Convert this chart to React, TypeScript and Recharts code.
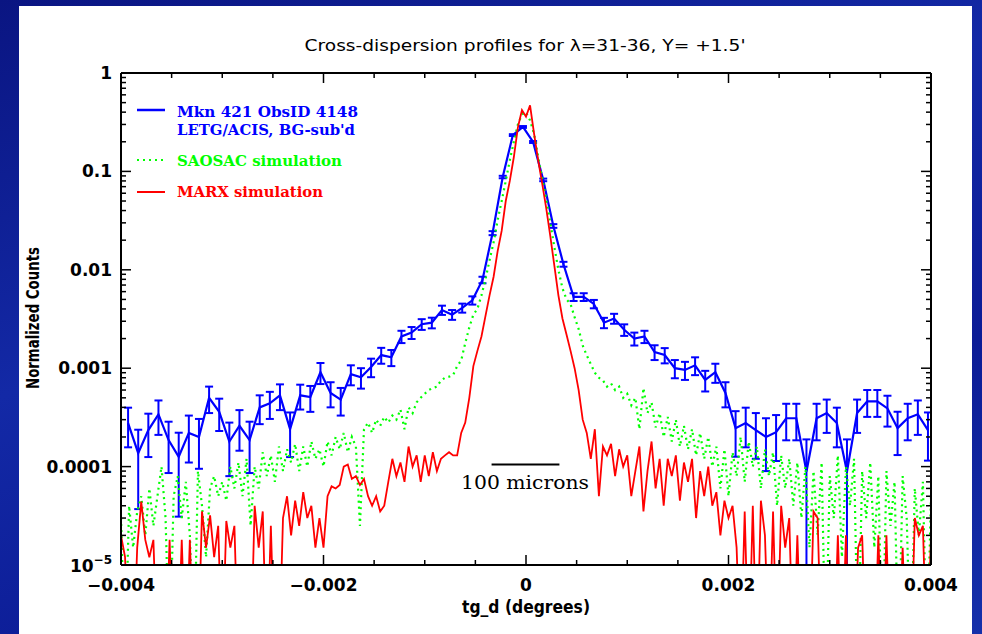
import React from 'react';
import { LineChart, Line, XAxis, YAxis, ErrorBar, ReferenceLine } from 'recharts';

// ---------- axis ranges & ticks ----------
const X_MIN = -0.004;
const X_MAX = 0.004;
const Y_MIN = 1e-5;
const Y_MAX = 1;
const xTicks = [-0.004, -0.0035, -0.003, -0.0025, -0.002, -0.0015, -0.001, -0.0005, 0, 0.0005, 0.001, 0.0015, 0.002, 0.0025, 0.003, 0.0035, 0.004];
const xMajorTicks = [-0.004, -0.002, 0, 0.002, 0.004];
const xMajorLabels = ['\u22120.004', '\u22120.002', '0', '0.002', '0.004'];
const yDecades = [1e-5, 1e-4, 1e-3, 1e-2, 1e-1, 1];
const yDecadeLabels = ['10^-5', '0.0001', '0.001', '0.01', '0.1', '1'];
const yMinorMultipliers = [1, 2, 3, 4, 5, 6, 7, 8, 9];

// ---------- Mkn 421 ObsID 4148 (binned, with errors) ----------
const blueX0 = -0.00393;
const blueStep = 0.0001;
const blueY = [
  2.77e-4, 1.37e-4, 2.35e-4, 3.4e-4, 1.86e-4, 1.26e-4, 2.2e-4, 2.0e-4, 5.0e-4, 3.6e-4,
  1.8e-4, 2.6e-4, 1.86e-4, 4.0e-4, 4.4e-4, 5.3e-4, 2.4e-4, 5.3e-4, 5.1e-4, 9.1e-4,
  5.6e-4, 4.8e-4, 8.7e-4, 8.1e-4, 1.03e-3, 1.36e-3, 1.29e-3, 2.1e-3, 2.3e-3, 2.8e-3,
  2.9e-3, 3.9e-3, 3.5e-3, 4.1e-3, 4.9e-3, 7.9e-3, 0.0236, 0.0877, 0.234, 0.283,
  0.199, 0.082, 0.0279, 0.0114, 5.3e-3, 5.3e-3, 4.5e-3, 2.9e-3, 3.2e-3, 2.46e-3,
  2.0e-3, 2.1e-3, 1.46e-3, 1.36e-3, 1.0e-3, 9.6e-4, 1.07e-3, 7.6e-4, 9.1e-4, 5.6e-4,
  2.46e-4, 2.77e-4, 2.35e-4, 2.0e-4, 2.24e-4, 3.1e-4, 3.1e-4, 8.9e-5, 3.1e-4, 3.5e-4,
  2.77e-4, 8.9e-5, 3.5e-4, 4.6e-4, 4.6e-4, 3.9e-4, 2.46e-4, 3.1e-4, 3.4e-4, 2.35e-4,
];
const blueSigma = [
  1.2e-4, 1.0e-4, 1.1e-4, 1.3e-4, 1.0e-4, 0.95e-4, 1.1e-4, 1.05e-4, 1.5e-4, 1.3e-4,
  1.0e-4, 1.15e-4, 1.0e-4, 1.3e-4, 1.35e-4, 1.55e-4, 1.15e-4, 1.5e-4, 1.5e-4, 2.2e-4,
  1.6e-4, 1.5e-4, 2.0e-4, 1.9e-4, 2.2e-4, 2.5e-4, 2.4e-4, 3.0e-4, 3.2e-4, 3.5e-4,
  3.6e-4, 4.2e-4, 4.0e-4, 4.3e-4, 4.7e-4, 6e-4, 1.1e-3, 2.5e-3, 5e-3, 6e-3,
  4.5e-3, 2.5e-3, 1.2e-3, 6.5e-4, 4.8e-4, 4.8e-4, 4.4e-4, 3.5e-4, 3.7e-4, 3.3e-4,
  3.0e-4, 3.0e-4, 2.5e-4, 2.4e-4, 2.1e-4, 2.0e-4, 2.2e-4, 1.8e-4, 2.0e-4, 1.6e-4,
  1.2e-4, 1.2e-4, 1.15e-4, 1.1e-4, 1.1e-4, 1.25e-4, 1.25e-4, 1.0e-4, 1.25e-4, 1.3e-4,
  1.2e-4, 1.0e-4, 1.3e-4, 1.4e-4, 1.4e-4, 1.35e-4, 1.15e-4, 1.25e-4, 1.3e-4, 1.2e-4,
];

// ---------- simulations (sampled every 0.00004 deg) ----------
const simX0 = -0.004;
const simStep = 0.00004;
const greenY = [
  3e-5, 1e-6, 4e-5, 1.5e-5, 3.5e-5, 5e-5, 2e-5, 6e-5, 2.5e-5, 5e-5,
  1e-4, 3e-5, 1e-6, 5e-5, 8e-5, 3e-5, 7e-5, 2e-5, 1e-6, 9e-5,
  4e-5, 1.2e-5, 6e-5, 8e-5, 5e-5, 7e-5, 4.5e-5, 1e-4, 6e-5, 1.1e-4,
  5e-5, 1.2e-4, 2.5e-5, 1e-4, 6e-5, 1.4e-4, 8e-5, 1.3e-4, 7e-5, 1.6e-4,
  9e-5, 1.5e-4, 1.1e-4, 1.7e-4, 9e-5, 1.6e-4, 1e-4, 1.8e-4, 1.2e-4, 1.5e-4,
  1e-4, 1.8e-4, 1.3e-4, 2e-4, 1.5e-4, 2.2e-4, 1.4e-4, 2e-4, 1.6e-4, 2.5e-5,
  2.4e-4, 2.8e-4, 2.2e-4, 3e-4, 2.6e-4, 3.2e-4, 2.8e-4, 3.3e-4, 3e-4, 3.8e-4,
  2.4e-4, 4e-4, 3.5e-4, 4.5e-4, 5e-4, 5.5e-4, 6e-4, 6.3e-4, 6.5e-4, 7.5e-4,
  8e-4, 8.2e-4, 8.5e-4, 1.05e-3, 1.2e-3, 1.8e-3, 2.6e-3, 3.5e-3, 4e-3, 5.5e-3,
  8e-3, 0.0125, 0.019, 0.032, 0.05, 0.08, 0.13, 0.2, 0.3, 0.38,
  0.4, 0.33, 0.24, 0.14, 0.085, 0.052, 0.03, 0.017, 0.01, 6.5e-3,
  5e-3, 4.5e-3, 3.3e-3, 2.5e-3, 1.7e-3, 1.35e-3, 1.1e-3, 9e-4, 8e-4, 7.5e-4,
  6.5e-4, 7e-4, 6e-4, 6.5e-4, 5e-4, 5.5e-4, 4.2e-4, 5e-4, 2.4e-4, 6.3e-4,
  3.5e-4, 4.5e-4, 2.5e-4, 3.5e-4, 2e-4, 3.2e-4, 1.8e-4, 3e-4, 1.6e-4, 2.6e-4,
  1.5e-4, 2.4e-4, 1.3e-4, 2.2e-4, 1.2e-4, 2e-4, 1e-4, 1.6e-4, 6e-5, 1.5e-4,
  5e-5, 1.4e-4, 8e-5, 2e-4, 7e-5, 1.8e-4, 1e-4, 1.6e-4, 6e-5, 1.5e-4,
  8e-5, 1.4e-4, 4e-5, 1.3e-4, 6e-5, 1.2e-4, 4e-5, 1.1e-4, 3e-5, 1e-4,
  1.5e-5, 9e-5, 2e-5, 1.1e-4, 1e-6, 8e-5, 3e-5, 1.3e-4, 1.2e-5, 1e-4,
  4e-5, 1.2e-4, 1e-6, 9e-5, 3e-5, 1.1e-4, 1.5e-5, 8e-5, 1e-6, 9e-5,
  2.5e-5, 7e-5, 1e-6, 8e-5, 3e-5, 1e-6, 6e-5, 2e-5, 7e-5, 1e-6,
  5e-5,
];
const redY = [
  2e-5, 1.2e-5, 1e-6, 1e-6, 1.5e-5, 4.4e-5, 1.8e-5, 1.2e-5, 1.8e-5, 1e-6,
  1e-6, 1e-6, 1.8e-5, 1e-6, 1e-6, 1.8e-5, 1e-6, 1.8e-5, 1e-6, 1e-6,
  3.5e-5, 1.5e-5, 3.2e-5, 1.2e-5, 2.5e-5, 1e-6, 2.8e-5, 1.5e-5, 2.5e-5, 1e-6,
  1e-6, 1e-6, 1e-6, 4e-5, 1.5e-5, 3.5e-5, 1e-6, 2.5e-5, 1e-6, 1e-6,
  3e-5, 5e-5, 2e-5, 4.5e-5, 2.5e-5, 5.5e-5, 3e-5, 4e-5, 1.5e-5, 3e-5,
  1.5e-5, 5e-5, 6.3e-5, 6e-5, 6.5e-5, 1e-4, 1.05e-4, 7.5e-5, 8e-5, 6.5e-5,
  7.5e-5, 5e-5, 4e-5, 5e-5, 3.5e-5, 4e-5, 7e-5, 1.2e-4, 8e-5, 1.1e-4,
  7e-5, 1.6e-4, 1e-4, 1.3e-4, 7e-5, 1.3e-4, 8e-5, 1.4e-4, 9e-5, 1.2e-4,
  1.3e-4, 1.4e-4, 1.3e-4, 1.3e-4, 2.2e-4, 2.8e-4, 5e-4, 1.05e-3, 1.5e-3, 2.1e-3,
  3.4e-3, 5.5e-3, 8.5e-3, 0.0155, 0.025, 0.05, 0.08, 0.14, 0.28, 0.42,
  0.36, 0.47, 0.24, 0.13, 0.075, 0.042, 0.022, 0.011, 5.5e-3, 3.2e-3,
  2.2e-3, 1.5e-3, 1e-3, 6e-4, 3e-4, 2.2e-4, 1.2e-4, 2.4e-4, 5e-5, 1.6e-4,
  1.3e-4, 1.7e-4, 8e-5, 1.5e-4, 1e-4, 1.3e-4, 5e-5, 9e-5, 1.6e-4, 3.5e-5,
  9e-5, 1.8e-4, 6e-5, 1.2e-4, 4e-5, 1.2e-4, 8e-5, 1.3e-4, 4.5e-5, 1.1e-4,
  7e-5, 1.2e-4, 3e-5, 9e-5, 5e-5, 1e-4, 4e-5, 5.5e-5, 2e-5, 4.5e-5,
  3e-5, 4e-5, 1.5e-5, 1e-6, 3.5e-5, 1e-6, 4e-5, 1e-6, 4.5e-5, 2e-5,
  1e-6, 3.5e-5, 1e-6, 4e-5, 1.5e-5, 3e-5, 1e-6, 2e-5, 1e-6, 1e-6,
  1e-6, 3.5e-5, 3e-5, 1e-6, 1e-6, 1e-6, 1e-6, 2e-5, 1e-6, 2e-5,
  1e-6, 1e-6, 1.5e-5, 2e-5, 1e-6, 1e-6, 1e-6, 2e-5, 1e-6, 2e-5,
  1e-6, 1e-6, 1e-6, 1.5e-5, 1e-6, 1e-6, 3e-5, 2e-5, 2.5e-5, 1e-6,
  2e-5,
];

// ---------- annotation ----------
const scaleBarX = [-0.00034, 0.00033];
const scaleBarY = 1.05e-4;
const scaleBarLabel = '100 microns';
const titleText = "Cross-dispersion profiles for \u03bb=31-36, Y= +1.5'";
const xTitle = 'tg_d (degrees)';
const yTitle = 'Normalized Counts';
const legendLabels = ['Mkn 421 ObsID 4148', "LETG/ACIS, BG-sub'd", 'SAOSAC simulation', 'MARX simulation'];

// ---------- derived tables ----------
const blueData = blueY.map((y, k) => {
  const lo = Math.max(y - blueSigma[k], Y_MIN);
  const hi = y + blueSigma[k];
  return { x: blueX0 + k * blueStep, y, err: [y - lo, hi - y] };
});
const greenData = greenY.map((y, i) => ({ x: simX0 + i * simStep, y }));
const redData = redY.map((y, i) => ({ x: simX0 + i * simStep, y }));
const yTicks: number[] = [];
yDecades.slice(0, -1).forEach((d) => yMinorMultipliers.forEach((m) => yTicks.push(d * m)));
yTicks.push(1);

const BLUE = '#0000ff';
const GREEN = '#00ff00';
const RED = '#ff0000';
const TICK_FONT = "'DejaVu Sans', sans-serif";

const xMajorIndex = (v: number) => xMajorTicks.findIndex((t) => Math.abs(t - v) < 1e-9);
const yMajorIndex = (v: number) => yDecades.findIndex((t) => Math.abs(Math.log10(t) - Math.log10(v)) < 1e-6);

const renderXTick = (side: 'bottom' | 'top') => (props: any) => {
  const { x, y, payload } = props;
  const idx = xMajorIndex(payload.value);
  const len = idx >= 0 ? 10 : 5;
  const dir = side === 'bottom' ? -1 : 1;
  return (
    <g>
      <line x1={x} x2={x} y1={y} y2={y + dir * len} stroke="#000" strokeWidth={1.5} />
      {side === 'bottom' && idx >= 0 && (
        <text x={x} y={y + 26} textAnchor="middle" fontFamily={TICK_FONT} fontWeight="bold" fontSize={17} fill="#000">
          {xMajorLabels[idx]}
        </text>
      )}
    </g>
  );
};

const renderYTick = (side: 'left' | 'right') => (props: any) => {
  const { x, y, payload } = props;
  const idx = yMajorIndex(payload.value);
  const len = idx >= 0 ? 10 : 5;
  const dir = side === 'left' ? 1 : -1;
  let label: React.ReactNode = null;
  if (side === 'left' && idx >= 0) {
    const s = yDecadeLabels[idx];
    if (s.startsWith('10^')) {
      label = (
        <text x={x - 9} y={y + 7} textAnchor="end" fontFamily={TICK_FONT} fontWeight="bold" fontSize={17} fill="#000">
          <tspan>10</tspan>
          <tspan dy={-8} fontSize={12}>{'\u2212' + s.slice(4)}</tspan>
        </text>
      );
    } else {
      label = (
        <text x={x - 9} y={y + 6} textAnchor="end" fontFamily={TICK_FONT} fontWeight="bold" fontSize={17} fill="#000">
          {s}
        </text>
      );
    }
  }
  return (
    <g>
      <line x1={x} x2={x + dir * len} y1={y} y2={y} stroke="#000" strokeWidth={1.5} />
      {label}
    </g>
  );
};

const axisLineStyle = { stroke: '#000', strokeWidth: 2 };

export default function App() {
  return (
    <div
      style={{
        position: 'absolute',
        left: 0,
        top: 0,
        width: 982,
        height: 634,
        overflow: 'hidden',
        background: 'linear-gradient(160deg, #0a1582 0%, #1329a6 40%, #0c1c96 70%, #1530aa 100%)',
      }}
    >
      <div style={{ position: 'absolute', left: 19, top: 6, width: 953, height: 628, background: '#fff' }} />
      <div style={{ position: 'absolute', left: 0, top: 0 }}>
        <LineChart width={982} height={634} margin={{ top: 72, right: 50, bottom: 68, left: 120 }}>
          <XAxis
            xAxisId="b"
            type="number"
            dataKey="x"
            orientation="bottom"
            domain={[X_MIN, X_MAX]}
            allowDataOverflow
            ticks={xTicks}
            interval={0}
            height={1}
            tickSize={0}
            tickMargin={0}
            tickLine={false}
            axisLine={axisLineStyle}
            tick={renderXTick('bottom')}
          />
          <XAxis
            xAxisId="t"
            type="number"
            dataKey="x"
            orientation="top"
            domain={[X_MIN, X_MAX]}
            allowDataOverflow
            ticks={xTicks}
            interval={0}
            height={1}
            tickSize={0}
            tickMargin={0}
            tickLine={false}
            axisLine={axisLineStyle}
            tick={renderXTick('top')}
          />
          <YAxis
            yAxisId="l"
            type="number"
            scale="log"
            orientation="left"
            domain={[Y_MIN, Y_MAX]}
            allowDataOverflow
            ticks={yTicks}
            interval={0}
            width={1}
            tickSize={0}
            tickMargin={0}
            tickLine={false}
            axisLine={axisLineStyle}
            tick={renderYTick('left')}
          />
          <YAxis
            yAxisId="r"
            type="number"
            scale="log"
            orientation="right"
            domain={[Y_MIN, Y_MAX]}
            allowDataOverflow
            ticks={yTicks}
            interval={0}
            width={1}
            tickSize={0}
            tickMargin={0}
            tickLine={false}
            axisLine={axisLineStyle}
            tick={renderYTick('right')}
          />
          <Line
            xAxisId="b"
            yAxisId="l"
            data={blueData}
            dataKey="y"
            type="linear"
            stroke={BLUE}
            strokeWidth={2.2}
            dot={false}
            isAnimationActive={false}
          >
            <ErrorBar dataKey="err" direction="y" width={4} stroke={BLUE} strokeWidth={2} />
          </Line>
          <Line
            xAxisId="b"
            yAxisId="l"
            data={greenData}
            dataKey="y"
            type="linear"
            stroke={GREEN}
            strokeWidth={2.2}
            strokeDasharray="2 4"
            dot={false}
            isAnimationActive={false}
          />
          <Line
            xAxisId="b"
            yAxisId="l"
            data={redData}
            dataKey="y"
            type="linear"
            stroke={RED}
            strokeWidth={1.8}
            dot={false}
            isAnimationActive={false}
          />
          <ReferenceLine
            xAxisId="b"
            yAxisId="l"
            segment={[
              { x: scaleBarX[0], y: scaleBarY },
              { x: scaleBarX[1], y: scaleBarY },
            ]}
            stroke="#000"
            strokeWidth={2}
          />
        </LineChart>
      </div>
      <svg style={{ position: 'absolute', left: 0, top: 0 }} width={982} height={634}>
        <text x={525} y={51} textAnchor="middle" fontFamily="'DejaVu Sans', sans-serif" fontSize={15} fill="#000" textLength={441} lengthAdjust="spacingAndGlyphs">
          {titleText}
        </text>
        <text x={526} y={613} textAnchor="middle" fontFamily={TICK_FONT} fontWeight="bold" fontSize={17} fill="#000" textLength={128} lengthAdjust="spacingAndGlyphs">
          {xTitle}
        </text>
        <text transform="translate(39,318) rotate(-90)" x={0} y={0} textAnchor="middle" fontFamily={TICK_FONT} fontWeight="bold" fontSize={17} fill="#000" textLength={142} lengthAdjust="spacingAndGlyphs">
          {yTitle}
        </text>
        <text x={525} y={489} textAnchor="middle" fontFamily="'DejaVu Serif', serif" fontSize={18} fill="#000" textLength={128} lengthAdjust="spacingAndGlyphs">
          {scaleBarLabel}
        </text>
        {/* legend */}
        <line x1={137} x2={165} y1={110} y2={110} stroke={BLUE} strokeWidth={2.5} />
        <text x={177} y={117} fontFamily="'DejaVu Serif', serif" fontWeight="bold" fontSize={15} fill={BLUE} textLength={181} lengthAdjust="spacingAndGlyphs">
          {legendLabels[0]}
        </text>
        <text x={177} y={135} fontFamily="'DejaVu Serif', serif" fontWeight="bold" fontSize={15} fill={BLUE} textLength={178} lengthAdjust="spacingAndGlyphs">
          {legendLabels[1]}
        </text>
        <line x1={137} x2={165} y1={160} y2={160} stroke={GREEN} strokeWidth={2.2} strokeDasharray="2 4" />
        <text x={177} y={166} fontFamily="'DejaVu Serif', serif" fontWeight="bold" fontSize={15} fill={GREEN} textLength={165} lengthAdjust="spacingAndGlyphs">
          {legendLabels[2]}
        </text>
        <line x1={137} x2={165} y1={192} y2={192} stroke={RED} strokeWidth={2} />
        <text x={177} y={197} fontFamily="'DejaVu Serif', serif" fontWeight="bold" fontSize={15} fill={RED} textLength={146} lengthAdjust="spacingAndGlyphs">
          {legendLabels[3]}
        </text>
      </svg>
    </div>
  );
}
